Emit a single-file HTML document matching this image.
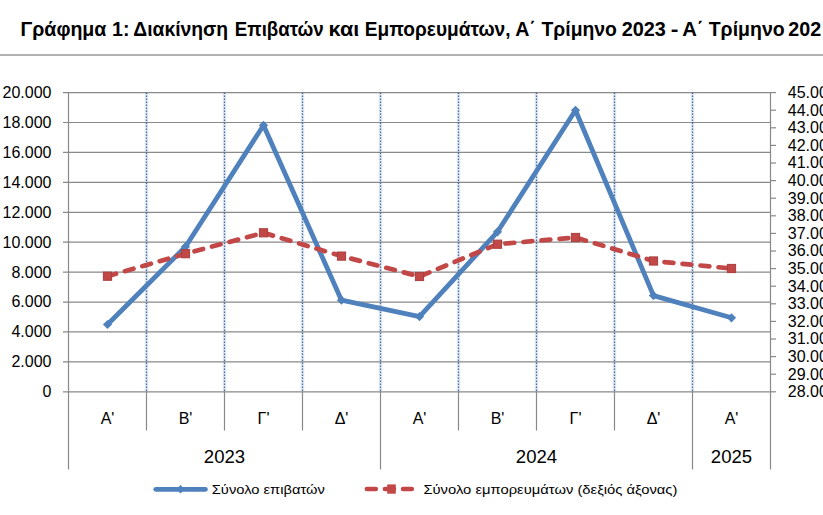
<!DOCTYPE html><html><head><meta charset="utf-8"><style>html,body{margin:0;padding:0;background:#fff;overflow:hidden}svg{display:block}text{font-family:"Liberation Sans",sans-serif;fill:#000}</style></head><body>
<svg width="823" height="515" viewBox="0 0 823 515">
<rect width="823" height="515" fill="#fff"/>
<text x="20.50" y="36" font-size="19.5" font-weight="700" textLength="85.87" lengthAdjust="spacingAndGlyphs">Γράφημα</text>
<text x="111.99" y="36" font-size="19.5" font-weight="700" textLength="17.46" lengthAdjust="spacingAndGlyphs">1:</text>
<text x="133.31" y="36" font-size="19.5" font-weight="700" textLength="94.81" lengthAdjust="spacingAndGlyphs">Διακίνηση</text>
<text x="234.84" y="36" font-size="19.5" font-weight="700" textLength="88.96" lengthAdjust="spacingAndGlyphs">Επιβατών</text>
<text x="328.59" y="36" font-size="19.5" font-weight="700" textLength="30.62" lengthAdjust="spacingAndGlyphs">και</text>
<text x="364.82" y="36" font-size="19.5" font-weight="700" textLength="145.68" lengthAdjust="spacingAndGlyphs">Εμπορευμάτων,</text>
<text x="515.19" y="36" font-size="19.5" font-weight="700" textLength="20.69" lengthAdjust="spacingAndGlyphs">Α΄</text>
<text x="541.50" y="36" font-size="19.5" font-weight="700" textLength="75.39" lengthAdjust="spacingAndGlyphs">Τρίμηνο</text>
<text x="621.68" y="36" font-size="19.5" font-weight="700" textLength="44.22" lengthAdjust="spacingAndGlyphs">2023</text>
<text x="670.82" y="36" font-size="19.5" font-weight="700" textLength="7.67" lengthAdjust="spacingAndGlyphs">-</text>
<text x="682.16" y="36" font-size="19.5" font-weight="700" textLength="21.38" lengthAdjust="spacingAndGlyphs">Α΄</text>
<text x="708.70" y="36" font-size="19.5" font-weight="700" textLength="76.00" lengthAdjust="spacingAndGlyphs">Τρίμηνο</text>
<text x="788.39" y="36" font-size="19.5" font-weight="700" textLength="32.97" lengthAdjust="spacingAndGlyphs">202</text>
<line x1="0" y1="55" x2="823" y2="55" stroke="#979797" stroke-width="1.3"/>
<line x1="146.50" y1="92.60" x2="146.50" y2="391.80" stroke="#dde8f6" stroke-width="3.5"/>
<line x1="224.50" y1="92.60" x2="224.50" y2="391.80" stroke="#dde8f6" stroke-width="3.5"/>
<line x1="302.50" y1="92.60" x2="302.50" y2="391.80" stroke="#dde8f6" stroke-width="3.5"/>
<line x1="380.50" y1="92.60" x2="380.50" y2="391.80" stroke="#dde8f6" stroke-width="3.5"/>
<line x1="458.50" y1="92.60" x2="458.50" y2="391.80" stroke="#dde8f6" stroke-width="3.5"/>
<line x1="536.50" y1="92.60" x2="536.50" y2="391.80" stroke="#dde8f6" stroke-width="3.5"/>
<line x1="614.50" y1="92.60" x2="614.50" y2="391.80" stroke="#dde8f6" stroke-width="3.5"/>
<line x1="692.50" y1="92.60" x2="692.50" y2="391.80" stroke="#dde8f6" stroke-width="3.5"/>
<line x1="63" y1="92.60" x2="770.50" y2="92.60" stroke="#898989" stroke-width="1.2"/>
<line x1="63" y1="122.52" x2="770.50" y2="122.52" stroke="#898989" stroke-width="1.2"/>
<line x1="63" y1="152.44" x2="770.50" y2="152.44" stroke="#898989" stroke-width="1.2"/>
<line x1="63" y1="182.36" x2="770.50" y2="182.36" stroke="#898989" stroke-width="1.2"/>
<line x1="63" y1="212.28" x2="770.50" y2="212.28" stroke="#898989" stroke-width="1.2"/>
<line x1="63" y1="242.20" x2="770.50" y2="242.20" stroke="#898989" stroke-width="1.2"/>
<line x1="63" y1="272.12" x2="770.50" y2="272.12" stroke="#898989" stroke-width="1.2"/>
<line x1="63" y1="302.04" x2="770.50" y2="302.04" stroke="#898989" stroke-width="1.2"/>
<line x1="63" y1="331.96" x2="770.50" y2="331.96" stroke="#898989" stroke-width="1.2"/>
<line x1="63" y1="361.88" x2="770.50" y2="361.88" stroke="#898989" stroke-width="1.2"/>
<line x1="63" y1="391.80" x2="770.50" y2="391.80" stroke="#898989" stroke-width="1.2"/>
<line x1="770.50" y1="92.60" x2="776" y2="92.60" stroke="#898989" stroke-width="1.2"/>
<line x1="770.50" y1="110.20" x2="776" y2="110.20" stroke="#898989" stroke-width="1.2"/>
<line x1="770.50" y1="127.80" x2="776" y2="127.80" stroke="#898989" stroke-width="1.2"/>
<line x1="770.50" y1="145.40" x2="776" y2="145.40" stroke="#898989" stroke-width="1.2"/>
<line x1="770.50" y1="163.00" x2="776" y2="163.00" stroke="#898989" stroke-width="1.2"/>
<line x1="770.50" y1="180.60" x2="776" y2="180.60" stroke="#898989" stroke-width="1.2"/>
<line x1="770.50" y1="198.20" x2="776" y2="198.20" stroke="#898989" stroke-width="1.2"/>
<line x1="770.50" y1="215.80" x2="776" y2="215.80" stroke="#898989" stroke-width="1.2"/>
<line x1="770.50" y1="233.40" x2="776" y2="233.40" stroke="#898989" stroke-width="1.2"/>
<line x1="770.50" y1="251.00" x2="776" y2="251.00" stroke="#898989" stroke-width="1.2"/>
<line x1="770.50" y1="268.60" x2="776" y2="268.60" stroke="#898989" stroke-width="1.2"/>
<line x1="770.50" y1="286.20" x2="776" y2="286.20" stroke="#898989" stroke-width="1.2"/>
<line x1="770.50" y1="303.80" x2="776" y2="303.80" stroke="#898989" stroke-width="1.2"/>
<line x1="770.50" y1="321.40" x2="776" y2="321.40" stroke="#898989" stroke-width="1.2"/>
<line x1="770.50" y1="339.00" x2="776" y2="339.00" stroke="#898989" stroke-width="1.2"/>
<line x1="770.50" y1="356.60" x2="776" y2="356.60" stroke="#898989" stroke-width="1.2"/>
<line x1="770.50" y1="374.20" x2="776" y2="374.20" stroke="#898989" stroke-width="1.2"/>
<line x1="770.50" y1="391.80" x2="776" y2="391.80" stroke="#898989" stroke-width="1.2"/>
<line x1="146.50" y1="92.60" x2="146.50" y2="391.80" stroke="#4e6a8e" stroke-width="1.2" stroke-dasharray="1.5 1.5"/>
<line x1="224.50" y1="92.60" x2="224.50" y2="391.80" stroke="#4e6a8e" stroke-width="1.2" stroke-dasharray="1.5 1.5"/>
<line x1="302.50" y1="92.60" x2="302.50" y2="391.80" stroke="#4e6a8e" stroke-width="1.2" stroke-dasharray="1.5 1.5"/>
<line x1="380.50" y1="92.60" x2="380.50" y2="391.80" stroke="#4e6a8e" stroke-width="1.2" stroke-dasharray="1.5 1.5"/>
<line x1="458.50" y1="92.60" x2="458.50" y2="391.80" stroke="#4e6a8e" stroke-width="1.2" stroke-dasharray="1.5 1.5"/>
<line x1="536.50" y1="92.60" x2="536.50" y2="391.80" stroke="#4e6a8e" stroke-width="1.2" stroke-dasharray="1.5 1.5"/>
<line x1="614.50" y1="92.60" x2="614.50" y2="391.80" stroke="#4e6a8e" stroke-width="1.2" stroke-dasharray="1.5 1.5"/>
<line x1="692.50" y1="92.60" x2="692.50" y2="391.80" stroke="#4e6a8e" stroke-width="1.2" stroke-dasharray="1.5 1.5"/>
<line x1="68.5" y1="92.60" x2="68.5" y2="469.5" stroke="#898989" stroke-width="1.2"/>
<line x1="770.5" y1="92.60" x2="770.5" y2="469.5" stroke="#898989" stroke-width="1.2"/>
<line x1="146.50" y1="391.80" x2="146.50" y2="430.5" stroke="#898989" stroke-width="1.2"/>
<line x1="224.50" y1="391.80" x2="224.50" y2="430.5" stroke="#898989" stroke-width="1.2"/>
<line x1="302.50" y1="391.80" x2="302.50" y2="430.5" stroke="#898989" stroke-width="1.2"/>
<line x1="380.50" y1="391.80" x2="380.50" y2="469.5" stroke="#898989" stroke-width="1.2"/>
<line x1="458.50" y1="391.80" x2="458.50" y2="430.5" stroke="#898989" stroke-width="1.2"/>
<line x1="536.50" y1="391.80" x2="536.50" y2="430.5" stroke="#898989" stroke-width="1.2"/>
<line x1="614.50" y1="391.80" x2="614.50" y2="430.5" stroke="#898989" stroke-width="1.2"/>
<line x1="692.50" y1="391.80" x2="692.50" y2="469.5" stroke="#898989" stroke-width="1.2"/>
<text x="51.5" y="98.00" font-size="16" text-anchor="end">20.000</text>
<text x="51.5" y="127.92" font-size="16" text-anchor="end">18.000</text>
<text x="51.5" y="157.84" font-size="16" text-anchor="end">16.000</text>
<text x="51.5" y="187.76" font-size="16" text-anchor="end">14.000</text>
<text x="51.5" y="217.68" font-size="16" text-anchor="end">12.000</text>
<text x="51.5" y="247.60" font-size="16" text-anchor="end">10.000</text>
<text x="51.5" y="277.52" font-size="16" text-anchor="end">8.000</text>
<text x="51.5" y="307.44" font-size="16" text-anchor="end">6.000</text>
<text x="51.5" y="337.36" font-size="16" text-anchor="end">4.000</text>
<text x="51.5" y="367.28" font-size="16" text-anchor="end">2.000</text>
<text x="51.5" y="397.20" font-size="16" text-anchor="end">0</text>
<text x="787.8" y="98.00" font-size="16">45.000</text>
<text x="787.8" y="115.60" font-size="16">44.000</text>
<text x="787.8" y="133.20" font-size="16">43.000</text>
<text x="787.8" y="150.80" font-size="16">42.000</text>
<text x="787.8" y="168.40" font-size="16">41.000</text>
<text x="787.8" y="186.00" font-size="16">40.000</text>
<text x="787.8" y="203.60" font-size="16">39.000</text>
<text x="787.8" y="221.20" font-size="16">38.000</text>
<text x="787.8" y="238.80" font-size="16">37.000</text>
<text x="787.8" y="256.40" font-size="16">36.000</text>
<text x="787.8" y="274.00" font-size="16">35.000</text>
<text x="787.8" y="291.60" font-size="16">34.000</text>
<text x="787.8" y="309.20" font-size="16">33.000</text>
<text x="787.8" y="326.80" font-size="16">32.000</text>
<text x="787.8" y="344.40" font-size="16">31.000</text>
<text x="787.8" y="362.00" font-size="16">30.000</text>
<text x="787.8" y="379.60" font-size="16">29.000</text>
<text x="787.8" y="397.20" font-size="16">28.000</text>
<text x="107.50" y="424" font-size="16" text-anchor="middle">A'</text>
<text x="185.50" y="424" font-size="16" text-anchor="middle">B'</text>
<text x="263.50" y="424" font-size="16" text-anchor="middle">Γ'</text>
<text x="341.50" y="424" font-size="16" text-anchor="middle">Δ'</text>
<text x="419.50" y="424" font-size="16" text-anchor="middle">A'</text>
<text x="497.50" y="424" font-size="16" text-anchor="middle">B'</text>
<text x="575.50" y="424" font-size="16" text-anchor="middle">Γ'</text>
<text x="653.50" y="424" font-size="16" text-anchor="middle">Δ'</text>
<text x="731.50" y="424" font-size="16" text-anchor="middle">A'</text>
<text x="224.50" y="463" font-size="17.6" text-anchor="middle" textLength="41.3" lengthAdjust="spacingAndGlyphs">2023</text>
<text x="536.50" y="463" font-size="17.6" text-anchor="middle" textLength="41.3" lengthAdjust="spacingAndGlyphs">2024</text>
<text x="731.50" y="463" font-size="17.6" text-anchor="middle" textLength="41.3" lengthAdjust="spacingAndGlyphs">2025</text>
<polyline points="107.50,324.50 185.50,246.70 263.50,125.30 341.50,300.20 419.50,316.60 497.50,231.80 575.50,110.30 653.50,295.60 731.50,317.80" fill="none" stroke="#4f81bd" stroke-width="4.8" stroke-linejoin="round" stroke-linecap="round"/>
<path d="M107.50 319.90L112.10 324.50L107.50 329.10L102.90 324.50Z" fill="#4f81bd"/>
<path d="M185.50 242.10L190.10 246.70L185.50 251.30L180.90 246.70Z" fill="#4f81bd"/>
<path d="M263.50 120.70L268.10 125.30L263.50 129.90L258.90 125.30Z" fill="#4f81bd"/>
<path d="M341.50 295.60L346.10 300.20L341.50 304.80L336.90 300.20Z" fill="#4f81bd"/>
<path d="M419.50 312.00L424.10 316.60L419.50 321.20L414.90 316.60Z" fill="#4f81bd"/>
<path d="M497.50 227.20L502.10 231.80L497.50 236.40L492.90 231.80Z" fill="#4f81bd"/>
<path d="M575.50 105.70L580.10 110.30L575.50 114.90L570.90 110.30Z" fill="#4f81bd"/>
<path d="M653.50 291.00L658.10 295.60L653.50 300.20L648.90 295.60Z" fill="#4f81bd"/>
<path d="M731.50 313.20L736.10 317.80L731.50 322.40L726.90 317.80Z" fill="#4f81bd"/>
<polyline points="107.50,276.20 185.50,253.70 263.50,232.80 341.50,256.10 419.50,276.50 497.50,244.20 575.50,237.50 653.50,261.00 731.50,268.50" fill="none" stroke="#c24848" stroke-width="4.7" stroke-linejoin="round" stroke-linecap="round" stroke-dasharray="8.9 9.2"/>
<rect x="103.40" y="272.10" width="8.2" height="8.2" fill="#c24848" stroke="#a8403e" stroke-width="1"/>
<rect x="181.40" y="249.60" width="8.2" height="8.2" fill="#c24848" stroke="#a8403e" stroke-width="1"/>
<rect x="259.40" y="228.70" width="8.2" height="8.2" fill="#c24848" stroke="#a8403e" stroke-width="1"/>
<rect x="337.40" y="252.00" width="8.2" height="8.2" fill="#c24848" stroke="#a8403e" stroke-width="1"/>
<rect x="415.40" y="272.40" width="8.2" height="8.2" fill="#c24848" stroke="#a8403e" stroke-width="1"/>
<rect x="493.40" y="240.10" width="8.2" height="8.2" fill="#c24848" stroke="#a8403e" stroke-width="1"/>
<rect x="571.40" y="233.40" width="8.2" height="8.2" fill="#c24848" stroke="#a8403e" stroke-width="1"/>
<rect x="649.40" y="256.90" width="8.2" height="8.2" fill="#c24848" stroke="#a8403e" stroke-width="1"/>
<rect x="727.40" y="264.40" width="8.2" height="8.2" fill="#c24848" stroke="#a8403e" stroke-width="1"/>
<line x1="155.8" y1="489.3" x2="205.4" y2="489.3" stroke="#4f81bd" stroke-width="4.8" stroke-linecap="round"/>
<path d="M180.5 485L184.8 489.3L180.5 493.6L176.2 489.3Z" fill="#4f81bd"/>
<text x="211.8" y="493.8" font-size="13" textLength="113" lengthAdjust="spacingAndGlyphs">Σύνολο επιβατών</text>
<line x1="366.9" y1="489" x2="411.8" y2="489" stroke="#c24848" stroke-width="4.7" stroke-linecap="round" stroke-dasharray="8.9 9.2"/>
<rect x="387.2" y="484.4" width="8.6" height="9.3" fill="#c24848"/>
<text x="423.4" y="493.8" font-size="13" textLength="254" lengthAdjust="spacingAndGlyphs">Σύνολο εμπορευμάτων (δεξιός άξονας)</text>
</svg></body></html>
